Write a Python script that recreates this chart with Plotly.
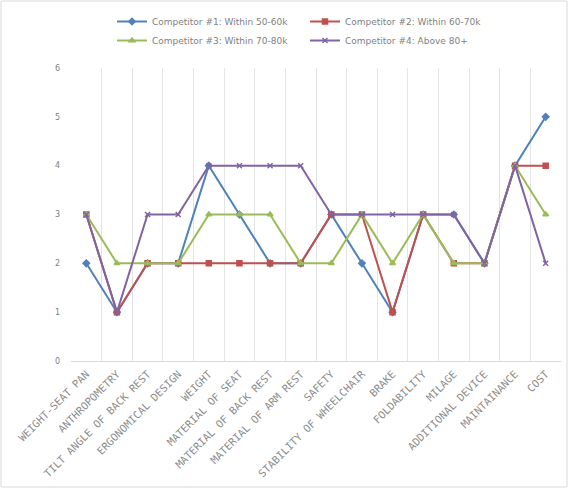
import plotly.graph_objects as go

categories = ["WEIGHT-SEAT PAN", "ANTHROPOMETRY", "TILT ANGLE OF BACK REST", "ERGONOMICAL DESIGN",
              "WEIGHT", "MATERIAL OF SEAT", "MATERIAL OF BACK REST", "MATERIAL OF ARM REST",
              "SAFETY", "STABILITY OF WHEELCHAIR", "BRAKE", "FOLDABILITY", "MILAGE",
              "ADDITIONAL DEVICE", "MAINTAINANCE", "COST"]

comp1 = [2, 1, 2, 2, 4, 3, 2, 2, 3, 2, 1, 3, 3, 2, 4, 5]
comp2 = [3, 1, 2, 2, 2, 2, 2, 2, 3, 3, 1, 3, 2, 2, 4, 4]
comp3 = [3, 2, 2, 2, 3, 3, 3, 2, 2, 3, 2, 3, 2, 2, 4, 3]
comp4 = [3, 1, 3, 3, 4, 4, 4, 4, 3, 3, 3, 3, 3, 2, 4, 2]

names = ["Competitor #1: Within 50-60k", "Competitor #2: Within 60-70k",
         "Competitor #3: Within 70-80k", "Competitor #4: Above 80+"]
y_ticks = [0, 1, 2, 3, 4, 5, 6]

series = [comp1, comp2, comp3, comp4]
colors = ["#4F81BD", "#C0504D", "#9BBB59", "#8064A2"]
symbols = ["diamond", "square", "triangle-up", "x-thin-open"]

fig = go.Figure()
for vals, name, col, sym in zip(series, names, colors, symbols):
    fig.add_trace(go.Scatter(
        x=categories, y=vals, name=name, mode="lines+markers",
        line=dict(color=col, width=2),
        marker=dict(symbol=sym, size=5, color=col, line=dict(color=col, width=1.5)),
    ))

W, H = 568, 488
L, R, T, B = 71, 7, 68, 127
pw, ph = W - L - R, H - T - B

fig.update_layout(
    width=W, height=H,
    margin=dict(l=L, r=R, t=T, b=B),
    paper_bgcolor="white", plot_bgcolor="white",
    font=dict(family="DejaVu Sans, sans-serif", size=8, color="#7f7f7f"),
    showlegend=True,
    legend=dict(orientation="h", x=(112 - L) / pw, xanchor="left",
                y=(H - B - 7) / ph, yanchor="top",
                entrywidth=148, entrywidthmode="pixels",
                font=dict(size=9, color="#7f7f7f")),
    xaxis=dict(type="category", tickson="boundaries", showgrid=True, gridcolor="#e4e4e4",
               gridwidth=1, showline=True, linecolor="#d9d9d9", ticks="",
               tickangle=-45, ticklabelstandoff=2,
               tickfont=dict(family="DejaVu Sans Mono, monospace", size=10.5, color="#8c8c8c"),
               range=[-0.5, len(categories) - 0.5]),
    yaxis=dict(range=[0, 6], tickvals=y_ticks, showgrid=False, zeroline=False,
               showline=False, ticks="", ticklabelstandoff=10,
               tickfont=dict(size=8, color="#7f7f7f")),
    shapes=[dict(type="rect", xref="paper", yref="paper",
                 x0=(1 - L) / pw, x1=(W - 1 - L) / pw,
                 y0=(H - B - (H - 1)) / ph, y1=(H - B - 1) / ph,
                 line=dict(color="#d9d9d9", width=1), layer="below")],
)

fig.write_html("out.html")
